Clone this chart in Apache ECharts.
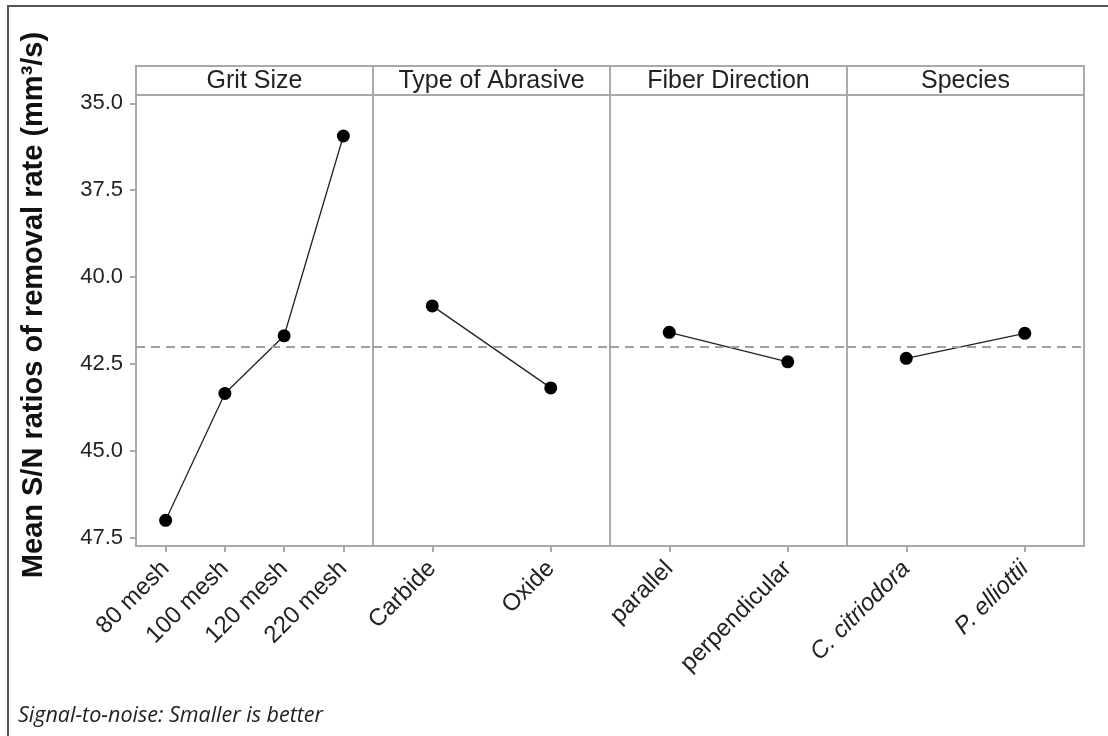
<!DOCTYPE html>
<html>
<head>
<meta charset="utf-8">
<script src="https://cdn.jsdelivr.net/npm/echarts@6/dist/echarts.min.js"></script>
<style>html,body{margin:0;padding:0;background:#fff;}#chart{width:1108px;height:736px;}</style>
</head>
<body>
<div id="chart"></div>
<script>
// ---- data ----
const panelTitles = ['Grit Size', 'Type of Abrasive', 'Fiber Direction', 'Species'];
const gritCats = ['80 mesh', '100 mesh', '120 mesh', '220 mesh'];
const gritVals = [47.00, 43.35, 41.69, 35.94];
const abrasiveCats = ['Carbide', 'Oxide'];
const abrasiveVals = [40.83, 43.19];
const fiberCats = ['parallel', 'perpendicular'];
const fiberVals = [41.59, 42.44];
const speciesCats = ['C. citriodora', 'P. elliottii'];
const speciesVals = [42.34, 41.62];
const yTickValues = [35, 37.5, 40, 42.5, 45, 47.5];
const overallMean = 42.01;
const yTitle = 'Mean S/N ratios of removal rate (mm³/s)';
const footnote = 'Signal-to-noise: Smaller is better';

// ---- layout ----
const FONT = "'Liberation Sans', Arial, sans-serif";
const TXT = '#222';
const GRIDC = '#a9a9a9';
const plotLeft = 136, panelW = 237, headerTop = 66, plotTop = 95, plotBottom = 546;
const yMin = 34.76, yMax = 47.74;

const panels = [
  {cats: gritCats, vals: gritVals, italic: false},
  {cats: abrasiveCats, vals: abrasiveVals, italic: false},
  {cats: fiberCats, vals: fiberVals, italic: false},
  {cats: speciesCats, vals: speciesVals, italic: true}
];

const grids = [], xAxes = [], yAxes = [], series = [], graphics = [];
panels.forEach((p, i) => {
  const left = plotLeft + i * panelW;
  grids.push({left: left, top: plotTop, width: panelW, height: plotBottom - plotTop,
    show: true, borderColor: GRIDC, borderWidth: 2, backgroundColor: 'transparent'});
  xAxes.push({type: 'category', gridIndex: i, data: p.cats, boundaryGap: true,
    axisLine: {show: false},
    axisTick: {show: true, alignWithLabel: true, length: 6, lineStyle: {color: GRIDC, width: 2}},
    axisLabel: {rotate: 45, margin: 19, fontSize: 24, color: TXT, fontFamily: FONT,
      fontStyle: p.italic ? 'italic' : 'normal', interval: 0},
    splitLine: {show: false}});
  yAxes.push({type: 'value', gridIndex: i, inverse: true, min: yMin, max: yMax,
    axisLine: {show: false},
    axisTick: {show: i === 0, length: 6, customValues: yTickValues, lineStyle: {color: GRIDC, width: 2}},
    axisLabel: {show: i === 0, customValues: yTickValues, margin: 13, fontSize: 22, color: TXT, fontFamily: FONT,
      formatter: v => Number(v).toFixed(1)},
    splitLine: {show: false}});
  series.push({type: 'line', xAxisIndex: i, yAxisIndex: i, data: p.vals,
    symbol: 'circle', symbolSize: 13, itemStyle: {color: '#000'},
    lineStyle: {color: '#222', width: 1.3}, silent: true, animation: false,
    markLine: {silent: true, symbol: 'none', label: {show: false}, animation: false,
      lineStyle: {color: '#a0a0a0', type: [9, 6], width: 1.8},
      data: [{yAxis: overallMean}]}});
  graphics.push({type: 'rect', shape: {x: left, y: headerTop, width: panelW, height: plotTop - headerTop},
    style: {fill: 'none', stroke: GRIDC, lineWidth: 2}, z: 10});
  graphics.push({type: 'text', x: left + panelW / 2, y: headerTop + (plotTop - headerTop) / 2 + 1,
    style: {text: panelTitles[i], fill: TXT, font: '25px ' + FONT, textAlign: 'center', textVerticalAlign: 'middle'}, z: 11});
});

graphics.push({type: 'text', x: 34, y: 305, rotation: Math.PI / 2,
  style: {text: yTitle, fill: '#111', font: 'bold 29px ' + FONT, textAlign: 'center', textVerticalAlign: 'middle'}});
graphics.push({type: 'text', x: 18, y: 716,
  style: {text: footnote, fill: '#222', font: 'italic 21.5px "Open Sans", "Noto Sans", sans-serif', textAlign: 'left', textVerticalAlign: 'middle'}});
graphics.push({type: 'rect', shape: {x: 8, y: 6, width: 1110, height: 740},
  style: {fill: 'none', stroke: '#555', lineWidth: 2}, z: 0});

const chart = echarts.init(document.getElementById('chart'), null, {renderer: 'canvas'});
chart.setOption({
  animation: false,
  backgroundColor: '#fff',
  grid: grids, xAxis: xAxes, yAxis: yAxes, series: series,
  graphic: graphics
});
</script>
</body>
</html>
